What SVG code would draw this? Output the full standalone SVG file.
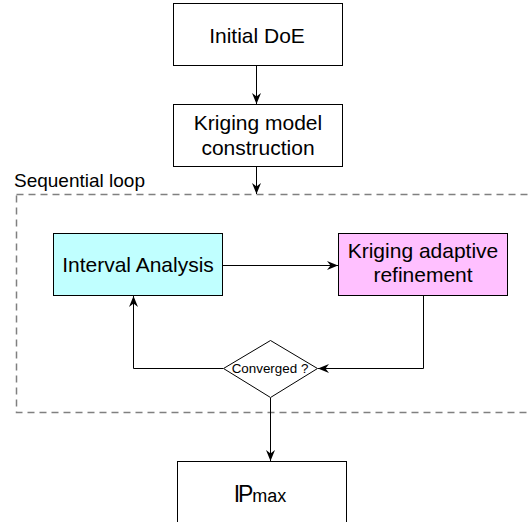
<svg xmlns="http://www.w3.org/2000/svg" width="529" height="522" viewBox="0 0 529 522">
  <style>
    .box { fill: #ffffff; stroke: #000000; stroke-width: 1; }
    .cyan { fill: #c0ffff; }
    .pink { fill: #ffc0ff; }
    .lbl { font-family: "Liberation Sans", Arial, sans-serif; font-size: 21px; fill: #000000; text-anchor: middle; }
    .small { font-family: "Liberation Sans", Arial, sans-serif; font-size: 13.4px; fill: #000000; text-anchor: middle; }
    .loop { font-family: "Liberation Sans", Arial, sans-serif; font-size: 19px; fill: #000000; }
    .conn { fill: none; stroke: #000000; stroke-width: 1; }
    .dash { fill: none; stroke: #808080; stroke-width: 1.5; stroke-dasharray: 7 5; }
  </style>
  <defs>
    <marker id="arr" markerUnits="userSpaceOnUse" markerWidth="12" markerHeight="10" refX="11" refY="5" orient="auto">
      <path d="M0,0.5 L11,5 L0,9.5 L3.5,5 Z" fill="#000000"/>
    </marker>
  </defs>
  <rect width="529" height="522" fill="#ffffff"/>

  <g id="loop">
    <rect class="dash" x="16.5" y="194.5" width="530" height="218"/>
    <text class="loop" x="14" y="187">Sequential loop</text>
  </g>

  <g id="connectors">
    <line class="conn" x1="256.5" y1="66" x2="256.5" y2="104" marker-end="url(#arr)"/>
    <line class="conn" x1="256.5" y1="167" x2="256.5" y2="194" marker-end="url(#arr)"/>
    <line class="conn" x1="223" y1="265.5" x2="338" y2="265.5" marker-end="url(#arr)"/>
    <polyline class="conn" points="423.5,296 423.5,368.5 318,368.5" marker-end="url(#arr)"/>
    <polyline class="conn" points="223,368.5 133.5,368.5 133.5,296" marker-end="url(#arr)"/>
    <line class="conn" x1="270.5" y1="398" x2="270.5" y2="461" marker-end="url(#arr)"/>
  </g>

  <g id="initial-doe">
    <rect class="box" x="173.5" y="3.5" width="169" height="62"/>
    <text class="lbl" x="257" y="43">Initial DoE</text>
  </g>

  <g id="kriging-model">
    <rect class="box" x="173.5" y="104.5" width="169" height="62"/>
    <text class="lbl" x="258" y="130">Kriging model</text>
    <text class="lbl" x="258" y="155">construction</text>
  </g>

  <g id="interval-analysis">
    <rect class="box cyan" x="53.5" y="233.5" width="169" height="62"/>
    <text class="lbl" x="138" y="272">Interval Analysis</text>
  </g>

  <g id="kriging-refinement">
    <rect class="box pink" x="338.5" y="233.5" width="169" height="62"/>
    <text class="lbl" x="423" y="258">Kriging adaptive</text>
    <text class="lbl" x="423" y="282">refinement</text>
  </g>

  <g id="converged">
    <polygon class="box" points="270.5,340.5 317.5,368.5 270.5,397.5 223.5,368.5"/>
    <text class="small" x="270" y="373">Converged ?</text>
  </g>

  <g id="pmax">
    <rect class="box" x="177.5" y="461.5" width="169" height="80"/>
    <text x="260" y="502" font-family="'Liberation Sans', Arial, sans-serif" fill="#000000" text-anchor="middle"><tspan font-size="23px" letter-spacing="-2">IP</tspan><tspan font-size="18px" dx="1">max</tspan></text>
  </g>
</svg>
